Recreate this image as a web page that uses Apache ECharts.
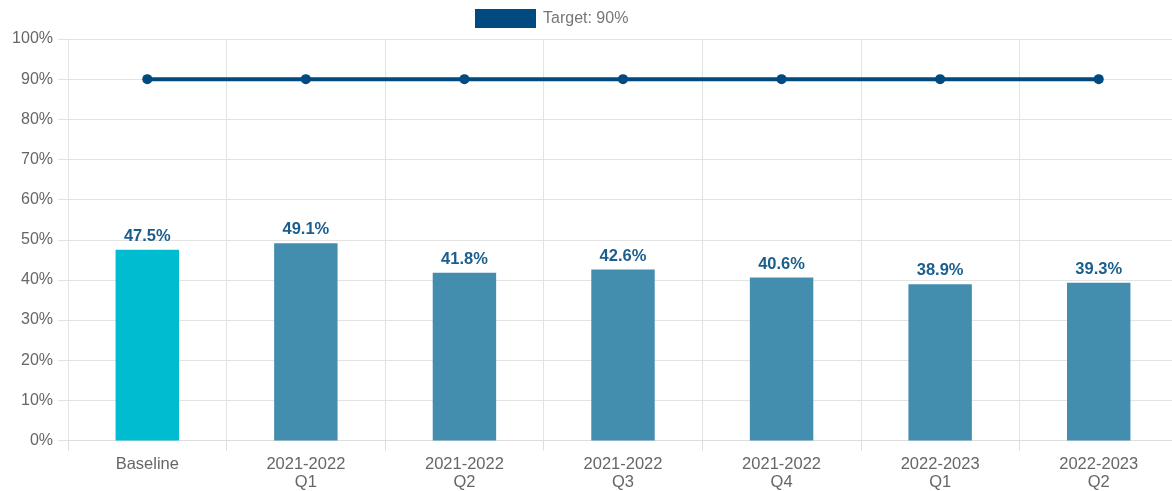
<!DOCTYPE html>
<html>
<head>
<meta charset="utf-8">
<script src="https://cdn.jsdelivr.net/npm/echarts@6/dist/echarts.min.js"></script>
<style>
html,body{margin:0;padding:0;background:#fff;}
#c{width:1172px;height:491px;}
</style>
</head>
<body>
<div id="c"></div>
<script>
const categories = ['Baseline', '2021-2022\nQ1', '2021-2022\nQ2', '2021-2022\nQ3', '2021-2022\nQ4', '2022-2023\nQ1', '2022-2023\nQ2'];
const values = [47.5, 49.1, 41.8, 42.6, 40.6, 38.9, 39.3];
const target = [90, 90, 90, 90, 90, 90, 90];
const yTicks = [0, 10, 20, 30, 40, 50, 60, 70, 80, 90, 100];
const barColors = ['#00BCD1', '#438EAF', '#438EAF', '#438EAF', '#438EAF', '#438EAF', '#438EAF'];

const font = '"Liberation Sans", Arial, sans-serif';
const chart = echarts.init(document.getElementById('c'), null, {renderer: 'canvas'});
chart.setOption({
  animation: false,
  textStyle: {fontFamily: font},
  legend: {
    data: [{name: 'Target: 90%', icon: 'rect', itemStyle: {color: '#004A7F'}}],
    left: 470, top: 4,
    itemWidth: 61, itemHeight: 19, itemGap: 10,
    textStyle: {color: '#777', fontSize: 16, fontFamily: font, padding: [0, 0, 0, 2]}
  },
  grid: {left: 68, width: 1110, top: 39, bottom: 50.5, containLabel: false, outerBoundsMode: 'none'},
  xAxis: {
    type: 'category',
    data: categories,
    axisLine: {show: true, lineStyle: {color: '#ddd', width: 1}},
    axisTick: {show: true, length: 10, lineStyle: {color: '#ddd'}},
    splitLine: {show: true, lineStyle: {color: '#e3e3e3'}},
    axisLabel: {color: '#666', fontSize: 16.5, fontFamily: font, margin: 15, lineHeight: 18}
  },
  yAxis: {
    type: 'value', min: yTicks[0], max: yTicks[yTicks.length - 1], interval: 10,
    axisLine: {show: true, lineStyle: {color: '#e3e3e3'}},
    axisTick: {show: true, length: 10, lineStyle: {color: '#e3e3e3'}},
    splitLine: {show: true, lineStyle: {color: '#e3e3e3'}},
    axisLabel: {color: '#666', fontSize: 16, fontFamily: font, margin: 15, formatter: v => v + '%'}
  },
  series: [
    {
      type: 'bar',
      name: 'Values',
      data: values.map((v, i) => ({value: v, itemStyle: {color: barColors[i]}})),
      barWidth: '40%',
      label: {
        show: true, position: 'top', distance: 5,
        color: '#1A5E8E', fontWeight: 'bold', fontSize: 16.5, fontFamily: font,
        formatter: p => p.value.toFixed(1) + '%'
      },
      z: 2
    },
    {
      type: 'line',
      name: 'Target: 90%',
      data: target,
      color: '#004A7F',
      lineStyle: {color: '#004A7F', width: 4},
      itemStyle: {color: '#004A7F'},
      symbol: 'circle', symbolSize: 10,
      z: 3
    }
  ]
});
</script>
</body>
</html>
